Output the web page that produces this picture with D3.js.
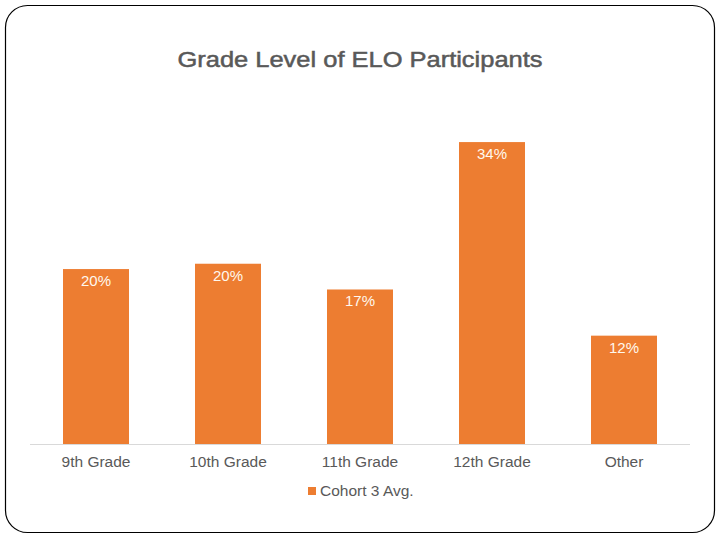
<!DOCTYPE html>
<html>
<head>
<meta charset="utf-8">
<script src="https://cdn.jsdelivr.net/npm/d3@7"></script>
<style>
  body { margin: 0; background: #fff; }
  svg { display: block; }
</style>
</head>
<body>
<div id="chart"></div>
<script>
// data
var categories = ["9th Grade", "10th Grade", "11th Grade", "12th Grade", "Other"];
var values = [19.7, 20.3, 17.4, 34.0, 12.2];
var labels = ["20%", "20%", "17%", "34%", "12%"];
var seriesName = "Cohort 3 Avg.";

var width = 720, height = 540;
var orange = "#ED7D31", grey = "#595959";

var svg = d3.select("#chart").append("svg")
    .attr("width", width)
    .attr("height", height);

// slide frame
svg.append("rect")
    .attr("x", 5.5).attr("y", 5.5)
    .attr("width", 709).attr("height", 527)
    .attr("rx", 22).attr("ry", 22)
    .attr("fill", "#fff")
    .attr("stroke", "#000")
    .attr("stroke-width", 1.2);

svg.append("text")
    .attr("x", 360).attr("y", 67)
    .attr("text-anchor", "middle")
    .attr("font-family", "Liberation Sans, Arial, sans-serif")
    .attr("font-size", 22)
    .attr("textLength", 365)
    .attr("lengthAdjust", "spacingAndGlyphs")
    .attr("fill", grey)
    .attr("stroke", grey)
    .attr("stroke-width", 0.5)
    .text("Grade Level of ELO Participants");

var margin = {left: 30, right: 30, bottom: 96};
var baseline = height - margin.bottom;

var x = d3.scaleBand()
    .domain(categories)
    .range([margin.left, width - margin.right])
    .paddingInner(0.5)
    .paddingOuter(0.25);

var y = d3.scaleLinear()
    .domain([0, 40])
    .range([baseline, baseline - 355.2]);

var g = svg.append("g");

g.selectAll("rect.bar")
    .data(values)
  .enter().append("rect")
    .attr("class", "bar")
    .attr("x", function(d, i) { return x(categories[i]); })
    .attr("y", function(d) { return y(d); })
    .attr("width", x.bandwidth())
    .attr("height", function(d) { return baseline - y(d); })
    .attr("fill", orange);

g.selectAll("text.lbl")
    .data(values)
  .enter().append("text")
    .attr("class", "lbl")
    .attr("x", function(d, i) { return x(categories[i]) + x.bandwidth() / 2; })
    .attr("y", function(d) { return y(d) + 17; })
    .attr("text-anchor", "middle")
    .attr("font-family", "Liberation Sans, Arial, sans-serif")
    .attr("font-size", 15)
    .attr("fill", "#FFF8EE")
    .text(function(d, i) { return labels[i]; });

var axis = g.append("g")
    .attr("transform", "translate(0," + baseline + ")")
    .call(d3.axisBottom(x).tickSize(0).tickPadding(12));
axis.select(".domain")
    .attr("stroke", "#D9D9D9")
    .attr("d", "M" + margin.left + ",0.5H" + (width - margin.right));
axis.selectAll("text")
    .attr("font-family", "Liberation Sans, Arial, sans-serif")
    .attr("font-size", 15.5)
    .attr("fill", grey);

// legend
var legend = svg.append("g").attr("transform", "translate(308,491)");
legend.append("rect")
    .attr("x", 0).attr("y", -4)
    .attr("width", 8).attr("height", 8)
    .attr("fill", orange);
legend.append("text")
    .attr("x", 12).attr("y", 5)
    .attr("font-family", "Liberation Sans, Arial, sans-serif")
    .attr("font-size", 15.5)
    .attr("fill", grey)
    .text(seriesName);
</script>
</body>
</html>
